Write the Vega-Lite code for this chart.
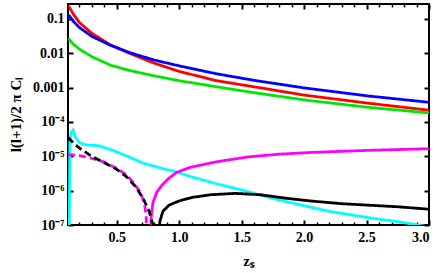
{
  "$schema": "https://vega.github.io/schema/vega-lite/v6.json",
  "width": 361,
  "height": 221,
  "autosize": {"type": "none"},
  "padding": {"left": 68, "top": 4, "right": 10, "bottom": 48},
  "background": "white",
  "config": {
    "view": {"stroke": "black", "strokeWidth": 2},
    "axis": {
      "labelFont": "Liberation Serif", "labelFontWeight": "bold", "labelFontSize": 14, "labelColor": "black",
      "titleFont": "Liberation Serif", "titleFontWeight": "bold", "titleFontSize": 15, "titleColor": "black",
      "domain": false, "grid": false, "tickColor": "black", "tickWidth": 2, "tickSize": -5
    }
  },
  "data": {"values": [
    {"s": "red", "x": 0.11, "y": 0.235}, {"s": "red", "x": 0.12, "y": 0.219}, {"s": "red", "x": 0.15, "y": 0.141}, {"s": "red", "x": 0.2, "y": 0.0794}, {"s": "red", "x": 0.3, "y": 0.038}, {"s": "red", "x": 0.45, "y": 0.0174}, {"s": "red", "x": 0.6, "y": 0.01}, {"s": "red", "x": 0.8, "y": 0.00513}, {"s": "red", "x": 1.0, "y": 0.00295}, {"s": "red", "x": 1.3, "y": 0.00158}, {"s": "red", "x": 1.6, "y": 0.00105}, {"s": "red", "x": 2.0, "y": 0.000603}, {"s": "red", "x": 2.5, "y": 0.000355}, {"s": "red", "x": 3.0, "y": 0.000219},
    {"s": "blue", "x": 0.11, "y": 0.13}, {"s": "blue", "x": 0.12, "y": 0.123}, {"s": "blue", "x": 0.15, "y": 0.0871}, {"s": "blue", "x": 0.2, "y": 0.0562}, {"s": "blue", "x": 0.3, "y": 0.0309}, {"s": "blue", "x": 0.45, "y": 0.017}, {"s": "blue", "x": 0.6, "y": 0.0105}, {"s": "blue", "x": 0.8, "y": 0.00631}, {"s": "blue", "x": 1.0, "y": 0.00427}, {"s": "blue", "x": 1.3, "y": 0.00251}, {"s": "blue", "x": 1.6, "y": 0.00162}, {"s": "blue", "x": 2.0, "y": 0.000977}, {"s": "blue", "x": 2.5, "y": 0.000575}, {"s": "blue", "x": 3.0, "y": 0.000372},
    {"s": "green", "x": 0.11, "y": 0.026}, {"s": "green", "x": 0.12, "y": 0.0251}, {"s": "green", "x": 0.15, "y": 0.0186}, {"s": "green", "x": 0.2, "y": 0.0132}, {"s": "green", "x": 0.3, "y": 0.00794}, {"s": "green", "x": 0.45, "y": 0.00447}, {"s": "green", "x": 0.6, "y": 0.00316}, {"s": "green", "x": 0.8, "y": 0.00219}, {"s": "green", "x": 1.0, "y": 0.00158}, {"s": "green", "x": 1.3, "y": 0.00105}, {"s": "green", "x": 1.6, "y": 0.000708}, {"s": "green", "x": 2.0, "y": 0.000437}, {"s": "green", "x": 2.5, "y": 0.000269}, {"s": "green", "x": 3.0, "y": 0.000182},
    {"s": "cyan", "x": 0.118, "y": 1e-8}, {"s": "cyan", "x": 0.125, "y": 2.51e-5}, {"s": "cyan", "x": 0.135, "y": 5.01e-5}, {"s": "cyan", "x": 0.15, "y": 5.75e-5}, {"s": "cyan", "x": 0.17, "y": 3.55e-5}, {"s": "cyan", "x": 0.2, "y": 2.51e-5}, {"s": "cyan", "x": 0.25, "y": 2.14e-5}, {"s": "cyan", "x": 0.3, "y": 2.09e-5}, {"s": "cyan", "x": 0.35, "y": 2.04e-5}, {"s": "cyan", "x": 0.45, "y": 1.58e-5}, {"s": "cyan", "x": 0.6, "y": 9.55e-6}, {"s": "cyan", "x": 0.71, "y": 6.31e-6}, {"s": "cyan", "x": 0.85, "y": 4.57e-6}, {"s": "cyan", "x": 0.97, "y": 3.55e-6}, {"s": "cyan", "x": 1.1, "y": 2.51e-6}, {"s": "cyan", "x": 1.3, "y": 1.58e-6}, {"s": "cyan", "x": 1.5, "y": 1.05e-6}, {"s": "cyan", "x": 1.65, "y": 7.41e-7}, {"s": "cyan", "x": 1.8, "y": 5.37e-7}, {"s": "cyan", "x": 2.0, "y": 3.63e-7}, {"s": "cyan", "x": 2.2, "y": 2.51e-7}, {"s": "cyan", "x": 2.5, "y": 1.66e-7}, {"s": "cyan", "x": 2.7, "y": 1.32e-7}, {"s": "cyan", "x": 2.88, "y": 1.05e-7}, {"s": "cyan", "x": 3.0, "y": 8.71e-8},
    {"s": "magenta", "x": 0.768, "y": 1e-8}, {"s": "magenta", "x": 0.775, "y": 1.58e-7}, {"s": "magenta", "x": 0.79, "y": 4.47e-7}, {"s": "magenta", "x": 0.82, "y": 8.91e-7}, {"s": "magenta", "x": 0.86, "y": 1.41e-6}, {"s": "magenta", "x": 0.92, "y": 2.34e-6}, {"s": "magenta", "x": 0.98, "y": 3.39e-6}, {"s": "magenta", "x": 1.09, "y": 4.79e-6}, {"s": "magenta", "x": 1.3, "y": 6.92e-6}, {"s": "magenta", "x": 1.55, "y": 9.55e-6}, {"s": "magenta", "x": 1.8, "y": 1.15e-5}, {"s": "magenta", "x": 2.05, "y": 1.29e-5}, {"s": "magenta", "x": 2.5, "y": 1.48e-5}, {"s": "magenta", "x": 3.0, "y": 1.66e-5},
    {"s": "magenta dashed", "x": 0.11, "y": 1.1e-5}, {"s": "magenta dashed", "x": 0.15, "y": 1.1e-5}, {"s": "magenta dashed", "x": 0.2, "y": 1.05e-5}, {"s": "magenta dashed", "x": 0.25, "y": 9.55e-6}, {"s": "magenta dashed", "x": 0.3, "y": 8.71e-6}, {"s": "magenta dashed", "x": 0.4, "y": 6.76e-6}, {"s": "magenta dashed", "x": 0.5, "y": 4.47e-6}, {"s": "magenta dashed", "x": 0.58, "y": 2.82e-6}, {"s": "magenta dashed", "x": 0.63, "y": 1.78e-6}, {"s": "magenta dashed", "x": 0.69, "y": 8.91e-7}, {"s": "magenta dashed", "x": 0.72, "y": 4.47e-7}, {"s": "magenta dashed", "x": 0.735, "y": 2.0e-7}, {"s": "magenta dashed", "x": 0.745, "y": 1e-8},
    {"s": "black dashed", "x": 0.11, "y": 3.5e-5}, {"s": "black dashed", "x": 0.15, "y": 2.51e-5}, {"s": "black dashed", "x": 0.2, "y": 1.74e-5}, {"s": "black dashed", "x": 0.25, "y": 1.32e-5}, {"s": "black dashed", "x": 0.3, "y": 1.0e-5}, {"s": "black dashed", "x": 0.4, "y": 6.46e-6}, {"s": "black dashed", "x": 0.5, "y": 4.17e-6}, {"s": "black dashed", "x": 0.58, "y": 2.51e-6}, {"s": "black dashed", "x": 0.65, "y": 1.32e-6}, {"s": "black dashed", "x": 0.71, "y": 6.03e-7}, {"s": "black dashed", "x": 0.76, "y": 2.51e-7}, {"s": "black dashed", "x": 0.79, "y": 1.0e-7}, {"s": "black dashed", "x": 0.8, "y": 1e-8},
    {"s": "black", "x": 0.835, "y": 1e-8}, {"s": "black", "x": 0.845, "y": 1.26e-7}, {"s": "black", "x": 0.87, "y": 2.51e-7}, {"s": "black", "x": 0.92, "y": 3.8e-7}, {"s": "black", "x": 1.0, "y": 5.01e-7}, {"s": "black", "x": 1.1, "y": 6.31e-7}, {"s": "black", "x": 1.25, "y": 7.59e-7}, {"s": "black", "x": 1.45, "y": 8.32e-7}, {"s": "black", "x": 1.65, "y": 7.59e-7}, {"s": "black", "x": 1.85, "y": 6.03e-7}, {"s": "black", "x": 2.05, "y": 5.01e-7}, {"s": "black", "x": 2.3, "y": 4.17e-7}, {"s": "black", "x": 2.5, "y": 3.8e-7}, {"s": "black", "x": 2.75, "y": 3.39e-7}, {"s": "black", "x": 3.0, "y": 2.88e-7}
  ]},
  "layer": [
    {
      "mark": {"type": "line", "clip": true, "strokeWidth": 2.8},
      "encoding": {
        "x": {"field": "x", "type": "quantitative", "scale": {"domain": [0.11, 3.0], "nice": false, "zero": false},
          "axis": {"values": [0.5, 1.0, 1.5, 2.0, 2.5, 3.0], "format": ".1f", "title": "zₛ", "labelPadding": 10, "titleY": 40, "titleBaseline": "alphabetic"}},
        "y": {"field": "y", "type": "quantitative", "scale": {"type": "log", "domain": [1e-7, 0.27], "nice": false},
          "axis": {"values": [1e-7, 1e-6, 1e-5, 1e-4, 0.001, 0.01, 0.1], "labelPadding": 9,
            "labelExpr": "datum.value > 0.05 ? '0.1' : datum.value > 0.005 ? '0.01' : datum.value > 0.0005 ? '0.001' : datum.value > 0.00005 ? '10⁻⁴' : datum.value > 0.000005 ? '10⁻⁵' : datum.value > 0.0000005 ? '10⁻⁶' : '10⁻⁷'",
            "title": "l(l+1)/2 π Cₗ", "titleX": -53, "titleY": 110, "titleAngle": -90, "titleAlign": "center", "titleBaseline": "middle"}},
        "color": {"field": "s", "type": "nominal", "legend": null,
          "scale": {"domain": ["red", "blue", "green", "cyan", "magenta", "magenta dashed", "black dashed", "black"],
            "range": ["#ff0000", "#0000ff", "#00e600", "#00ffff", "#ff00ff", "#ff00ff", "#000000", "#000000"]}},
        "strokeDash": {"field": "s", "type": "nominal", "legend": null,
          "scale": {"domain": ["red", "blue", "green", "cyan", "magenta", "magenta dashed", "black dashed", "black"],
            "range": [[1, 0], [1, 0], [1, 0], [1, 0], [1, 0], [7, 4], [7, 4], [1, 0]]}}
      }
    },
    {
      "mark": {"type": "line", "opacity": 0},
      "encoding": {
        "x": {"field": "x", "type": "quantitative", "axis": {"orient": "top", "values": [0.5, 1.0, 1.5, 2.0, 2.5, 3.0], "labels": false, "title": null}},
        "y": {"field": "y", "type": "quantitative", "scale": {"type": "log"}, "axis": {"orient": "right", "values": [1e-7, 1e-6, 1e-5, 1e-4, 0.001, 0.01, 0.1], "labels": false, "title": null}}
      }
    },
    {
      "mark": {"type": "line", "opacity": 0},
      "encoding": {
        "x": {"field": "x", "type": "quantitative", "axis": {"orient": "bottom", "offset": 0, "values": [0.2, 0.3, 0.4, 0.6, 0.7, 0.8, 0.9, 1.1, 1.2, 1.3, 1.4, 1.6, 1.7, 1.8, 1.9, 2.1, 2.2, 2.3, 2.4, 2.6, 2.7, 2.8, 2.9], "labels": false, "title": null, "tickSize": -3, "tickWidth": 1.5}},
        "y": {"field": "y", "type": "quantitative", "scale": {"type": "log"}, "axis": null}
      }
    },
    {
      "mark": {"type": "line", "opacity": 0},
      "encoding": {
        "x": {"field": "x", "type": "quantitative", "axis": {"orient": "top", "offset": 0, "values": [0.2, 0.3, 0.4, 0.6, 0.7, 0.8, 0.9, 1.1, 1.2, 1.3, 1.4, 1.6, 1.7, 1.8, 1.9, 2.1, 2.2, 2.3, 2.4, 2.6, 2.7, 2.8, 2.9], "labels": false, "title": null, "tickSize": -3, "tickWidth": 1.5}},
        "y": {"field": "y", "type": "quantitative", "scale": {"type": "log"}, "axis": null}
      }
    }
  ],
  "resolve": {"axis": {"x": "independent", "y": "independent"}}
}
